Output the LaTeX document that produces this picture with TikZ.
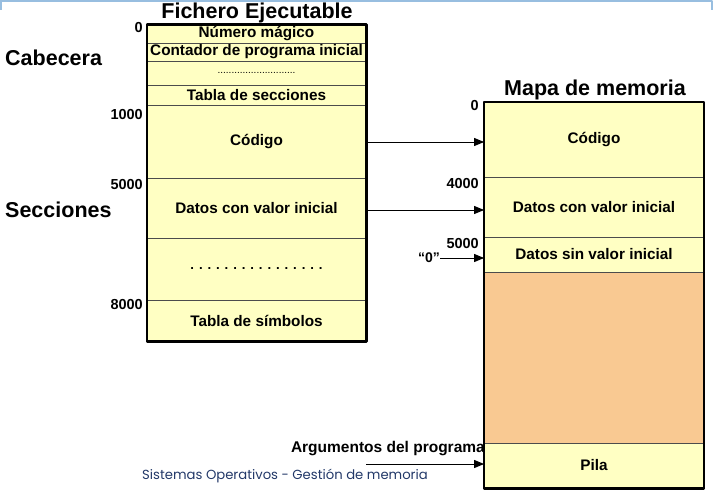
\documentclass[tikz,border=0pt]{standalone}
\usepackage{fontspec}
\setmainfont{Liberation Sans}
\newfontfamily\piefont{Poppins}
\usetikzlibrary{arrows.meta}

\definecolor{amarillo}{RGB}{255,255,195}
\definecolor{naranja}{RGB}{249,201,146}
\definecolor{azulpie}{RGB}{34,56,104}
\definecolor{azulraya}{RGB}{152,190,224}

\begin{document}
\begin{tikzpicture}[x=1pt, y=-1pt, line join=round,
  celda/.style={draw=black!70, line width=0.8pt, fill=amarillo, minimum width=219pt,
    inner sep=0pt, font=\bfseries\fontsize{15.3}{17}\selectfont},
  dir/.style={anchor=east, inner sep=0pt, font=\bfseries\fontsize{14.5}{16}\selectfont},
  titulo/.style={inner sep=0pt, font=\bfseries\fontsize{21.5}{24}\selectfont},
  flecha/.style={-{Triangle[length=10pt,width=8pt]}, line width=1pt}]

\useasboundingbox (0,0) rectangle (714,495);

% slide border
\draw[azulraya, line width=2.5pt] (0.5,10) -- (0.5,1) -- (712,1) -- (712,10);

% Fichero ejecutable
\node[titulo] (tfich) at (257,13) {Fichero Ejecutable};
\node[celda, minimum height=18pt] (fmag) at (256.5,34) {Número mágico};
\node[celda, minimum height=18pt] (fcont) at (256.5,52) {Contador de programa inicial};
\node[celda, minimum height=24pt, font=\fontsize{10}{12}\selectfont] (fpun) at (256.5,73) {............................};
\node[celda, minimum height=20pt] (ftab) at (256.5,95) {Tabla de secciones};
\node[celda, minimum height=73pt] (fcod) at (256.5,141.5) {Código};
\node[celda, minimum height=60pt] (fdat) at (256.5,208) {Datos con valor inicial};
\node[celda, minimum height=62pt, font=\bfseries\fontsize{13.2}{15}\selectfont] (fres) at (256.5,269) {. . . . . . . . . . . . . . . .};
\node[celda, minimum height=41pt] (fsim) at (256.5,320.5) {Tabla de símbolos};
\draw[line width=2.2pt] (fmag.north west) rectangle (fsim.south east);

% Mapa de memoria
\node[titulo] (tmapa) at (595,90) {Mapa de memoria};
\node[celda, minimum height=75pt] (mcod) at (594,139.5) {Código};
\node[celda, minimum height=60pt] (mdat) at (594,207) {Datos con valor inicial};
\node[celda, minimum height=35pt] (msin) at (594,254.5) {Datos sin valor inicial};
\node[celda, minimum height=171pt, fill=naranja] (mhueco) at (594,357.5) {};
\node[celda, minimum height=45pt] (mpila) at (594,465.5) {Pila};
\draw[line width=2.2pt] (mcod.north west) rectangle (mpila.south east);

% direcciones
\node[dir] (d0) at (143,28) {0};
\node[dir] (d1000) at (143,115) {1000};
\node[dir] (d5000) at (143,185) {5000};
\node[dir] (d8000) at (143,305) {8000};
\node[dir] (m0) at (479,106) {0};
\node[dir] (m4000) at (479,184) {4000};
\node[dir] (m5000) at (479,244) {5000};

% partes del fichero
\node[titulo, anchor=west] (cab) at (5,58) {Cabecera};
\node[titulo, anchor=west] (sec) at (5,210) {Secciones};

% Arrows
\draw[flecha] (fcod.east) ++(0,0.5) coordinate (acod) -- (acod -| mcod.west);
\draw[flecha] (fdat.east) ++(0,2) coordinate (adat) -- (adat -| mdat.west);
\node[anchor=east, inner sep=0pt, font=\bfseries\fontsize{14}{16}\selectfont] (cero) at (440,258) {“0”};
\draw[flecha] (cero.east) -- (cero.east -| msin.west);
\node[anchor=east, inner sep=0pt, font=\bfseries\fontsize{15.5}{17}\selectfont] (args) at (485,449) {Argumentos del programa};
\coordinate (aini) at (366,464);
\draw[flecha] (aini) -- (aini -| mpila.west);

% pie
\node[anchor=west, inner sep=0pt, text=azulpie, font=\piefont\fontsize{13.2}{15}\selectfont] (pie) at (142,476) {Sistemas Operativos - Gestión de memoria};

\end{tikzpicture}
\end{document}
